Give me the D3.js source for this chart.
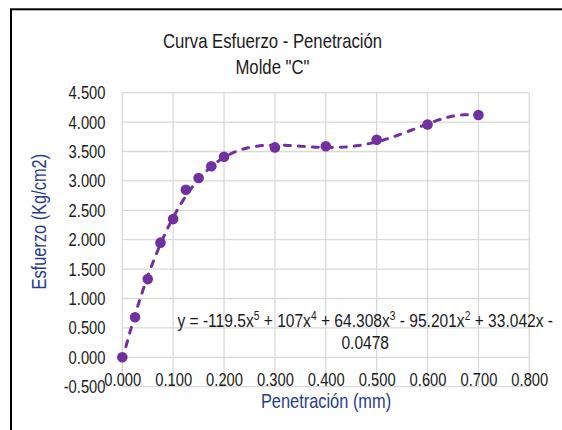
<!DOCTYPE html>
<html><head><meta charset="utf-8">
<script src="https://cdn.jsdelivr.net/npm/d3@7"></script>
<style>body{margin:0;background:#fff;} svg{display:block}</style>
</head><body><svg id="c" width="562" height="430"></svg>
<script>
// ---- data ----
const penetracion = [0, 0.025, 0.05, 0.075, 0.1, 0.125, 0.15, 0.175, 0.2, 0.3, 0.4, 0.5, 0.6, 0.7];
const esfuerzo    = [0, 0.68, 1.33, 1.95, 2.35, 2.85, 3.05, 3.25, 3.41, 3.57, 3.59, 3.70, 3.96, 4.12];
// polynomial trendline coefficients a0..a5 (as printed on chart)
const trendCoefs = [-0.0478, 33.042, -95.201, 64.308, 107, -119.5];
const xTicks = [0, 0.1, 0.2, 0.3, 0.4, 0.5, 0.6, 0.7, 0.8];
const yTicks = [-0.5, 0, 0.5, 1, 1.5, 2, 2.5, 3, 3.5, 4, 4.5];
const titleLines = ["Curva Esfuerzo - Penetración", 'Molde "C"'];
const xTitle = "Penetración (mm)";
const yTitle = "Esfuerzo (Kg/cm2)";
const eqLine1 = [["y = -119.5x",""],["5","sup"],[" + 107x",""],["4","sup"],[" + 64.308x",""],["3","sup"],[" - 95.201x",""],["2","sup"],[" + 33.042x -",""]];
const eqLine2 = "0.0478";

// ---- setup ----
const svg = d3.select("#c");
const FONT = "'Liberation Sans Narrow', 'Liberation Sans', Arial, sans-serif";
const probe = svg.append("text").attr("font-family", FONT).attr("font-size", 20).text("Curva Esfuerzo");
const w1 = probe.node().getComputedTextLength();
probe.attr("font-family", "'Liberation Sans'");
const w2 = probe.node().getComputedTextLength();
probe.remove();
const k = (w1 / w2 < 0.92) ? 1 : 0.82;

const TXT = "#1a1a1a", AXT = "#283c8c", PURPLE = "#7030a0", GRID = "#d9d9d9";

// outer chart border
svg.append("rect").attr("x", 11).attr("y", 9.3).attr("width", 700).attr("height", 600)
  .attr("fill", "#fff").attr("stroke", "#000").attr("stroke-width", 2);

const x = d3.scaleLinear().domain([0, 0.8]).range([122.3, 529.3]);
const y = d3.scaleLinear().domain([-0.5, 4.5]).range([386.7, 92.7]);

// gridlines
svg.append("g").selectAll("line").data(xTicks).join("line")
  .attr("x1", d => x(d)).attr("x2", d => x(d)).attr("y1", y(-0.5)).attr("y2", y(4.5))
  .attr("stroke", GRID).attr("stroke-width", 1.3);
svg.append("g").selectAll("line").data(yTicks).join("line")
  .attr("y1", d => y(d)).attr("y2", d => y(d)).attr("x1", x(0)).attr("x2", x(0.8))
  .attr("stroke", GRID).attr("stroke-width", 1.3);

// y axis
const gy = svg.append("g").attr("transform", `translate(${x(0)},0)`)
  .call(d3.axisLeft(y).tickValues(yTicks).tickFormat(d => d.toFixed(3)).tickSize(0).tickPadding(0));
gy.select(".domain").remove();
gy.selectAll("text").attr("font-family", FONT).attr("font-size", 18).attr("fill", TXT)
  .attr("x", -16.8 / k).attr("dy", "0.33em").attr("transform", `scale(${k},1)`);

// x axis
const gx = svg.append("g").attr("transform", `translate(0,373.5)`)
  .call(d3.axisBottom(x).tickValues(xTicks).tickFormat(d => d.toFixed(3)).tickSize(0).tickPadding(0));
gx.select(".domain").remove();
gx.selectAll("text").attr("font-family", FONT).attr("font-size", 18).attr("fill", TXT)
  .attr("y", 0).attr("dy", "0.71em").attr("transform", `scale(${k},1)`);

function label(tx, ty, str, size, color, rot) {
  return svg.append("text")
    .attr("transform", `translate(${tx},${ty})${rot ? ` rotate(${rot})` : ""} scale(${k},1)`)
    .attr("text-anchor", "middle").attr("font-family", FONT).attr("font-size", size)
    .attr("fill", color).text(str);
}
// titles
label(272.5, 48.3, titleLines[0], 20.4, TXT);
label(272.5, 73.5, titleLines[1], 20.4, TXT);
label(326, 408.3, xTitle, 20, AXT);
label(45.5, 221.7, yTitle, 20, AXT, -90);

// trendline
const poly = v => trendCoefs.reduce((s, c, i) => s + c * Math.pow(v, i), 0);
const xs = d3.range(0, 0.7 + 1e-9, 0.005);
svg.append("path").datum(xs)
  .attr("d", d3.line().x(d => x(d)).y(d => y(poly(d))))
  .attr("fill", "none").attr("stroke", PURPLE).attr("stroke-width", 3)
  .attr("stroke-dasharray", "6,8").attr("stroke-linecap", "round");

// equation label
const eq1 = svg.append("text")
  .attr("transform", `translate(365.2,327.3) scale(${k},1)`)
  .attr("text-anchor", "middle").attr("font-family", FONT).attr("font-size", 19).attr("fill", TXT);
eq1.selectAll("tspan").data(eqLine1).join("tspan")
  .attr("font-size", d => d[1] === "sup" ? 12.5 : null)
  .attr("dy", (d, i) => d[1] === "sup" ? -7 : (i > 0 ? 7 : 0))
  .text(d => d[0]);
label(365.2, 349, eqLine2, 19, TXT);

// markers
svg.append("g").selectAll("circle").data(penetracion).join("circle")
  .attr("cx", d => x(d)).attr("cy", (d, i) => y(esfuerzo[i])).attr("r", 5.3)
  .attr("fill", PURPLE);
</script></body></html>
